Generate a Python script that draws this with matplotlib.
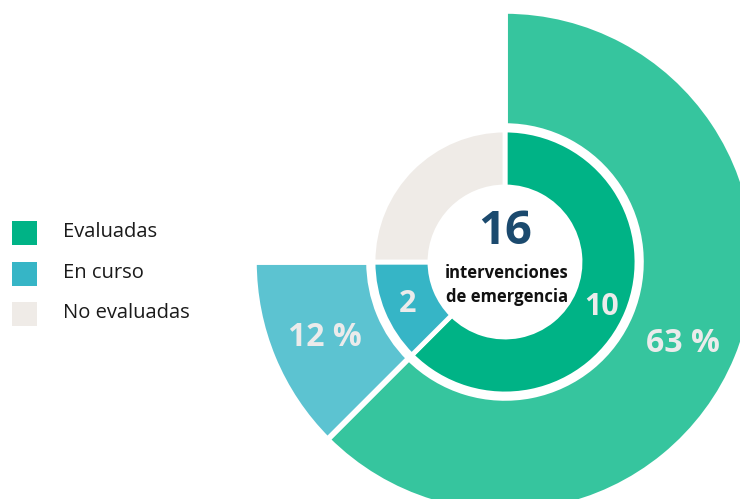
import numpy as np
import matplotlib.pyplot as plt
from matplotlib.patches import Rectangle

# data
categories = ['Evaluadas', 'En curso', 'No evaluadas']
counts = [10, 2, 4]
outer_labels = ['63 %', '12 %', '']
total_label = '16'
center_caption = ['intervenciones', 'de emergencia']

inner_colors = ['#00b386', '#36b5c6', '#efebe7']
outer_colors = ['#36c59e', '#5cc3d1', 'none']
label_color = '#ebebeb'

W, H = 740, 499
CX, CY = 505, H - 262  # pie centre in pixel units (y up)

fig = plt.figure(figsize=(W / 100, H / 100), dpi=100)
ax = fig.add_axes([0, 0, 1, 1])
plt.rcParams['font.family'] = ['Open Sans', 'DejaVu Sans']

# outer ring: only evaluadas / en curso are shown
r_out, w_out = 251, 115
ax.pie(counts, radius=r_out, center=(CX, CY), startangle=90, counterclock=False,
       colors=outer_colors,
       wedgeprops=dict(width=w_out, edgecolor='white', linewidth=4))

# inner donut
r_in, w_in = 132, 57
wedges, _ = ax.pie(counts, radius=r_in, center=(CX, CY), startangle=90,
                   counterclock=False, colors=inner_colors,
                   wedgeprops=dict(width=w_in, edgecolor='white', linewidth=3.5))

# labels at wedge mid angles
for i, wd in enumerate(wedges):
    mid = np.deg2rad((wd.theta1 + wd.theta2) / 2 - 1)
    if categories[i] != 'No evaluadas':
        r = 105
        ax.text(CX + r * np.cos(mid), CY + r * np.sin(mid), str(counts[i]),
                ha='center', va='center_baseline', fontsize=22, fontweight='bold',
                color=label_color)
    if outer_labels[i]:
        r = 194
        ax.text(CX + r * np.cos(mid), CY + r * np.sin(mid), outer_labels[i],
                ha='center', va='center_baseline', fontsize=23, fontweight='bold',
                color=label_color)

# centre text
ax.text(CX, H - 231, total_label, ha='center', va='center', fontsize=34,
        fontweight='bold', color='#1b4a6e')
ax.text(CX + 2, H - 273, center_caption[0], ha='center', va='center', fontsize=12,
        fontweight='bold', color='#111111')
ax.text(CX + 2, H - 297, center_caption[1], ha='center', va='center', fontsize=12,
        fontweight='bold', color='#111111')

# legend
for i, name in enumerate(categories):
    top = 221 + i * 40.5
    ax.add_patch(Rectangle((12, H - top - 24), 25, 24, color=inner_colors[i],
                           linewidth=0))
    ax.text(63, H - top - 16, name, ha='left', va='baseline', fontsize=14.5,
            color='#1a1a1a')

ax.set_xlim(0, W)
ax.set_ylim(0, H)
ax.set_aspect('equal')
ax.axis('off')

fig.savefig('out.png', dpi=100)
